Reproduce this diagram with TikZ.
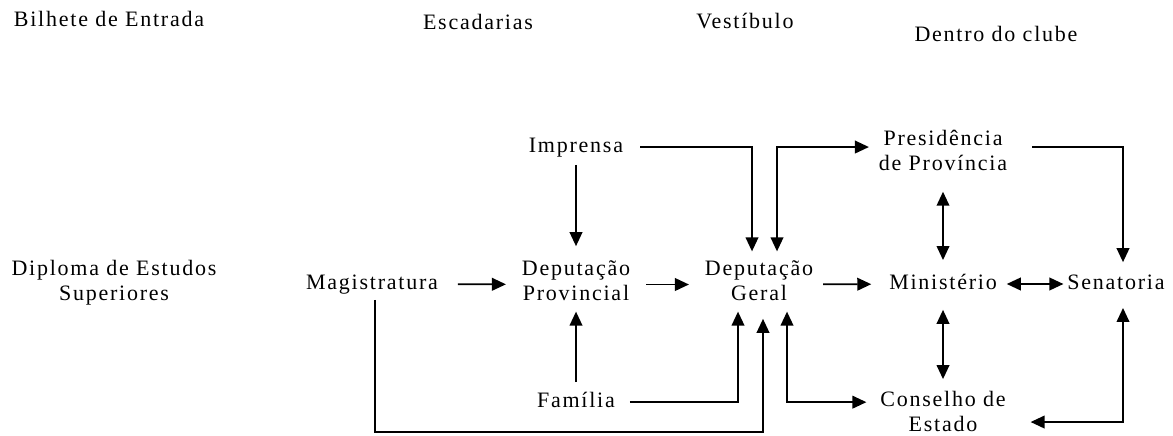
\documentclass[tikz,border=0pt]{standalone}
\usepackage{fontspec}
\setmainfont{Liberation Serif}[LetterSpace=8]
\usetikzlibrary{arrows.meta}
\begin{document}
\begin{tikzpicture}[>={Triangle[length=10.5pt,width=9.5pt]},x=0.75pt,y=-0.75pt,line width=1.3pt,
 font=\fontsize{16.5pt}{18.75pt}\selectfont,
 every node/.style={align=center,inner sep=0pt,outer sep=0pt,
   execute at begin node=\strut,execute at end node=\strut}]
 \useasboundingbox (0,0) rectangle (1173,435);
 % colunas
 \node (bilhete) at (109,22) {Bilhete de Entrada};
 \node (escadas) at (478,25) {Escadarias};
 \node (vestib) at (745,24) {Vestíbulo};
 \node (clube) at (996,37) {Dentro do clube};
 % etapas
 \node (diploma) at (114,284.5) {Diploma de Estudos\\Superiores};
 \node (magis) at (372,284) {Magistratura};
 \node (imprensa) at (576,147) {Imprensa};
 \node (depprov) at (576,284.5) {Deputação\\Provincial};
 \node (familia) at (576,402) {Família};
 \node (depger) at (759,284.5) {Deputação\\Geral};
 \node (presid) at (943,154.5) {Presidência\\de Província};
 \node (minist) at (943,284) {Ministério};
 \node (senat) at (1116,284) {Senatoria};
 \node (conselho) at (943,415.5) {Conselho de\\Estado};
 \coordinate (fundo) at (0,432);
 % linha do meio
 \draw[->,shorten <=15pt,shorten >=12pt] (magis)--(depprov);
 \draw[->,shorten <=12pt,shorten >=12pt] (depprov)--(depger);
 \draw[->,shorten <=7.5pt,shorten >=13.5pt] (depger)--(minist);
 \draw[<->,shorten <=7.5pt,shorten >=3pt] (minist)--(senat);
 \draw[->,shorten <=4pt,shorten >=11pt] (imprensa)--(depprov);
 \draw[->,shorten <=5.6pt,shorten >=2.6pt] (familia)--(depprov);
 \draw[<->,shorten <=10pt,shorten >=8.6pt] (presid)--(minist);
 \draw[<->,shorten <=10pt,shorten >=9.4pt] (minist)--(conselho);
 % ligacoes em L
 \draw[->,shorten <=12.75pt,shorten >=7.1pt] (imprensa.east) -| ([xshift=-5.25pt]depger.north);
 \draw[<->,shorten <=7.1pt,shorten >=7.5pt] ([xshift=13.5pt]depger.north) |- ([yshift=5.6pt]presid.west);
 \draw[->,shorten <=18.75pt,shorten >=7pt] ([yshift=5.6pt]presid.east) -| ([xshift=5.25pt]senat.north);
 \draw[->,shorten <=11.25pt,shorten >=2.6pt] (familia.east) -| ([xshift=-15.75pt]depger.south);
 \draw[->,shorten <=2.6pt,shorten >=8pt] ([xshift=2.25pt]magis.south) -- ([xshift=2.25pt]magis.south |- fundo) -| ([xshift=3pt]depger.south);
 \draw[<->,shorten <=2.6pt,shorten >=10.5pt] ([xshift=21pt]depger.south) |- ([yshift=10pt]conselho.west);
 \draw[<->,shorten <=8.6pt,shorten >=18.75pt] ([xshift=5.25pt]senat.south) |- ([yshift=-4.9pt]conselho.east);
\end{tikzpicture}
\end{document}
